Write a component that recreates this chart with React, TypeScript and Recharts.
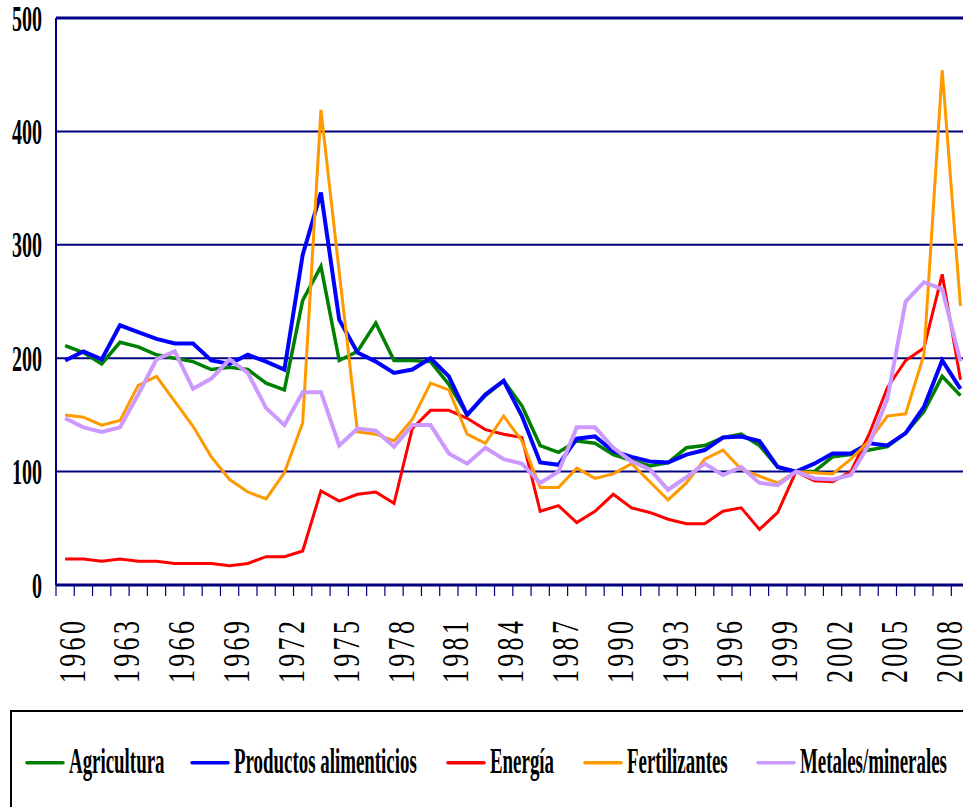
import React from 'react';
import { LineChart, Line, XAxis, YAxis, CartesianGrid, Legend, ReferenceLine } from 'recharts';

// Índices de precios de productos básicos, 2000 = 100
const YEARS = [
  '1960', '1961', '1962', '1963', '1964', '1965', '1966', '1967', '1968', '1969',
  '1970', '1971', '1972', '1973', '1974', '1975', '1976', '1977', '1978', '1979',
  '1980', '1981', '1982', '1983', '1984', '1985', '1986', '1987', '1988', '1989',
  '1990', '1991', '1992', '1993', '1994', '1995', '1996', '1997', '1998', '1999',
  '2000', '2001', '2002', '2003', '2004', '2005', '2006', '2007', '2008', '2009',
];

const LABEL_YEARS = [
  '1960', '1963', '1966', '1969', '1972', '1975', '1978', '1981', '1984',
  '1987', '1990', '1993', '1996', '1999', '2002', '2005', '2008',
];

const Y_TICKS = [0, 100, 200, 300, 400, 500];

const AGRICULTURA = [
  211, 205, 195, 214, 210, 203, 200, 197, 190, 192,
  190, 178, 172, 251, 281, 198, 206, 231, 198, 198,
  197, 177, 150, 167, 180, 158, 123, 117, 127, 125,
  115, 110, 105, 108, 121, 123, 130, 133, 123, 104,
  100, 100, 113, 115, 119, 122, 134, 153, 184, 167,
];

const ALIMENTOS = [
  198, 206, 199, 229, 223, 217, 213, 213, 198, 195,
  203, 197, 190, 291, 346, 234, 205, 197, 187, 190,
  200, 184, 150, 168, 180, 149, 108, 106, 129, 131,
  118, 113, 109, 108, 115, 119, 130, 131, 127, 104,
  100, 107, 116, 116, 125, 123, 134, 157, 198, 173,
];

const ENERGIA = [
  23, 23, 21, 23, 21, 21, 19, 19, 19, 17,
  19, 25, 25, 30, 83, 74, 80, 82, 72, 138,
  154, 154, 147, 137, 133, 130, 65, 70, 55, 65,
  80, 68, 64, 58, 54, 54, 65, 68, 49, 64,
  100, 92, 91, 100, 133, 174, 198, 209, 274, 181,
];

const FERTILIZANTES = [
  150, 148, 141, 145, 176, 184, 162, 140, 113, 93,
  82, 76, 99, 143, 419, 276, 135, 133, 127, 146,
  178, 172, 133, 125, 149, 127, 86, 86, 103, 94,
  98, 107, 91, 75, 90, 111, 119, 102, 96, 90,
  100, 99, 98, 111, 127, 149, 151, 203, 454, 246,
];

const METALES = [
  147, 139, 135, 139, 168, 199, 206, 173, 182, 199,
  187, 156, 141, 170, 170, 123, 138, 136, 122, 141,
  141, 116, 107, 121, 111, 107, 90, 100, 139, 139,
  121, 109, 102, 84, 95, 107, 97, 104, 90, 88,
  100, 94, 93, 97, 124, 164, 250, 267, 261, 197,
];

const data = YEARS.map((year, i) => ({
  year,
  agricultura: AGRICULTURA[i],
  alimentos: ALIMENTOS[i],
  energia: ENERGIA[i],
  fertilizantes: FERTILIZANTES[i],
  metales: METALES[i],
}));

// series in drawing / legend order
const SERIES = [
  { key: 'agricultura', name: 'Agricultura', color: '#008000', width: 3.5 },
  { key: 'alimentos', name: 'Productos alimenticios', color: '#0000FF', width: 4 },
  { key: 'energia', name: 'Energía', color: '#FF0000', width: 3 },
  { key: 'fertilizantes', name: 'Fertilizantes', color: '#FF9900', width: 3 },
  { key: 'metales', name: 'Metales/minerales', color: '#CC99FF', width: 4 },
];

const NAVY = '#000080';
const SERIF = '"Liberation Serif", "Times New Roman", serif';

const CHART_W = 980;
const CHART_H = 807;
const MARGIN = { top: 18, right: 10.4, left: 0, bottom: 122 };
const Y_AXIS_W = 56;
const BAND = (CHART_W - MARGIN.right - MARGIN.left - Y_AXIS_W) / YEARS.length;

const XTick = (props: any) => {
  const { x, y, payload } = props;
  const showLabel = LABEL_YEARS.includes(payload.value);
  const left = x - BAND / 2;
  return (
    <g>
      <line x1={left} x2={left} y1={y} y2={y + 11} stroke={NAVY} strokeWidth={1.2} />
      {payload.index === YEARS.length - 1 && (
        <line x1={x + BAND / 2} x2={x + BAND / 2} y1={y} y2={y + 11} stroke={NAVY} strokeWidth={1.2} />
      )}
      {showLabel && (
        <text
          transform={`translate(${x + 19.5}, ${y + 98}) rotate(-90) scale(1, 1.47)`}
          fontSize={26}
          dx="0 3.3 3.3 3.3"
          fontFamily={SERIF}
          fill="#000"
          textAnchor="start"
        >
          {payload.value}
        </text>
      )}
    </g>
  );
};

const YTick = (props: any) => {
  const { y, payload } = props;
  return (
    <text
      transform={`translate(42, ${y}) scale(1, 1.84)`}
      fontSize={20}
      fontWeight="bold"
      fontFamily={SERIF}
      fill="#000"
      textAnchor="end"
      dy="0.34em"
    >
      {payload.value}
    </text>
  );
};

const LEGEND_X = [17, 182, 438, 575, 748];

const renderLegend = () => (
  <svg width={980} height={120} style={{ display: 'block' }}>
    <rect x={1} y={1} width={990} height={130} fill="#fff" stroke="#000" strokeWidth={2} />
    {SERIES.map((s, i) => (
      <g key={s.key}>
        <line
          x1={LEGEND_X[i]}
          x2={LEGEND_X[i] + 36}
          y1={52.7}
          y2={52.7}
          stroke={s.color}
          strokeWidth={3.5}
          strokeLinecap="round"
        />
        <text
          transform={`translate(${LEGEND_X[i] + 42}, 63) scale(1, 1.85)`}
          fontSize={18.9}
          fontWeight="bold"
          fontFamily={SERIF}
          fill="#000"
        >
          {s.name}
        </text>
      </g>
    ))}
  </svg>
);

export default function App() {
  return (
    <div
      style={{
        position: 'absolute',
        left: 0,
        top: 0,
        width: 963,
        height: 807,
        overflow: 'hidden',
        background: '#fff',
      }}
    >
      <LineChart width={CHART_W} height={CHART_H} data={data} margin={MARGIN}>
        <CartesianGrid vertical={false} horizontal stroke={NAVY} strokeWidth={2} />
        <XAxis
          dataKey="year"
          scale="band"
          interval={0}
          tickSize={0}
          tickMargin={0}
          tickLine={false}
          tick={<XTick />}
          axisLine={{ stroke: NAVY, strokeWidth: 3 }}
          height={100}
        />
        <YAxis
          domain={[0, 500]}
          ticks={Y_TICKS}
          width={Y_AXIS_W}
          tickLine={false}
          tick={<YTick />}
          axisLine={{ stroke: NAVY, strokeWidth: 2 }}
        />
        <ReferenceLine y={500} stroke={NAVY} strokeWidth={3} />
        {SERIES.map((s) => (
          <Line
            key={s.key}
            type="linear"
            dataKey={s.key}
            name={s.name}
            stroke={s.color}
            strokeWidth={s.width}
            dot={false}
            isAnimationActive={false}
          />
        ))}
        <Legend
          layout="horizontal"
          verticalAlign="middle"
          align="center"
          content={renderLegend}
          wrapperStyle={{ position: 'absolute', left: 10, top: 710, width: 980, height: 120 }}
        />
      </LineChart>
    </div>
  );
}
